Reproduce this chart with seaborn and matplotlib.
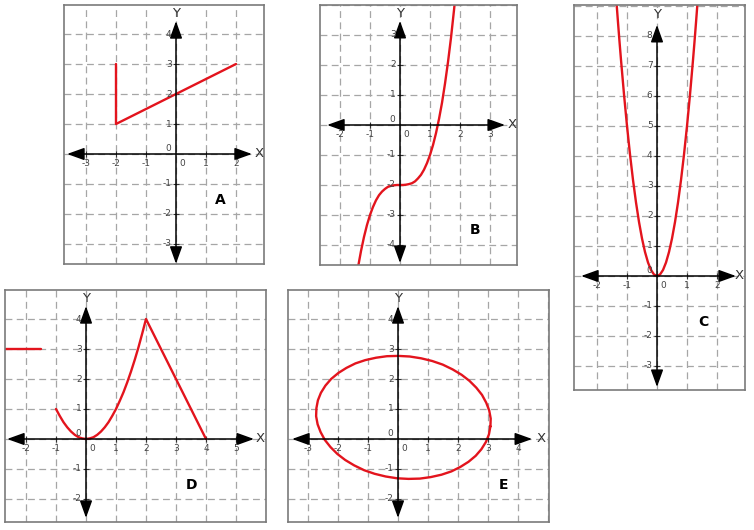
import numpy as np
import seaborn as sns
import matplotlib.pyplot as plt

# ---- data ----
# A: vertical piece then a straight line
a_x = [-2, -2, 2]
a_y = [3, 1, 3]

# B: cubic-looking curve
b_x = [-1.39, -1.3, -1.2, -1.1, -1.0, -0.9, -0.8, -0.7, -0.6, -0.5, -0.4, -0.3, -0.2, -0.1,
       0.0, 0.1, 0.2, 0.3, 0.4, 0.5, 0.6, 0.7, 0.8, 0.9, 1.0, 1.1, 1.2, 1.3, 1.4, 1.5,
       1.6, 1.7, 1.8, 1.82]
b_y = [-4.69, -4.20, -3.73, -3.33, -3.0, -2.73, -2.51, -2.34, -2.22, -2.13, -2.06, -2.03, -2.01, -2.0,
       -2.0, -2.0, -1.99, -1.97, -1.94, -1.88, -1.78, -1.66, -1.49, -1.27, -1.0, -0.67, -0.27, 0.20, 0.74, 1.38,
       2.10, 2.91, 3.83, 4.03]

# C: narrow parabola
c_x = [-1.35, -1.3, -1.25, -1.2, -1.1, -1.0, -0.9, -0.8, -0.7, -0.6, -0.5, -0.4, -0.3, -0.2, -0.1, 0.0,
       0.1, 0.2, 0.3, 0.4, 0.5, 0.6, 0.7, 0.8, 0.9, 1.0, 1.1, 1.2, 1.25, 1.3, 1.35]
c_y = [9.11, 8.45, 7.81, 7.2, 6.05, 5.0, 4.05, 3.2, 2.45, 1.8, 1.25, 0.8, 0.45, 0.2, 0.05, 0.0,
       0.05, 0.2, 0.45, 0.8, 1.25, 1.8, 2.45, 3.2, 4.05, 5.0, 6.05, 7.2, 7.81, 8.45, 9.11]

# D: flat piece on the left, parabola arc, then a straight drop
d_ray_x = [-3, -1.5]
d_ray_y = [3, 3]
d_x = [-1, -0.875, -0.75, -0.625, -0.5, -0.375, -0.25, -0.125, 0, 0.125, 0.25, 0.375, 0.5, 0.625,
       0.75, 0.875, 1, 1.125, 1.25, 1.375, 1.5, 1.625, 1.75, 1.875, 2, 4]
d_y = [1, 0.77, 0.56, 0.39, 0.25, 0.14, 0.06, 0.02, 0, 0.02, 0.06, 0.14, 0.25, 0.39,
       0.56, 0.77, 1, 1.27, 1.56, 1.89, 2.25, 2.64, 3.06, 3.52, 4, 0]

# E: tilted ellipse (closed)
e_x = [3.08, 3.09, 3.04, 2.94, 2.80, 2.61, 2.38, 2.12, 1.82, 1.49, 1.14, 0.77, 0.39, 0.01,
       -0.37, -0.73, -1.09, -1.42, -1.72, -1.99, -2.23, -2.42, -2.57, -2.67, -2.72, -2.73,
       -2.68, -2.58, -2.44, -2.25, -2.02, -1.76, -1.46, -1.13, -0.78, -0.41, -0.03, 0.35,
       0.73, 1.09, 1.45, 1.78, 2.08, 2.35, 2.59, 2.78, 2.93, 3.03, 3.08]
e_y = [0.42, 0.68, 0.95, 1.21, 1.47, 1.71, 1.94, 2.14, 2.32, 2.48, 2.60, 2.69, 2.75, 2.77,
       2.76, 2.71, 2.63, 2.52, 2.37, 2.20, 2.00, 1.78, 1.54, 1.29, 1.03, 0.76,
       0.49, 0.23, -0.03, -0.27, -0.50, -0.70, -0.88, -1.04, -1.16, -1.25, -1.31, -1.33,
       -1.32, -1.27, -1.19, -1.08, -0.93, -0.76, -0.56, -0.34, -0.10, 0.15, 0.42]

letters = ['A', 'B', 'C', 'D', 'E']
x_ticks = [[-3, -2, -1, 0, 1, 2], [-2, -1, 0, 1, 2, 3], [-2, -1, 0, 1, 2],
           [-2, -1, 0, 1, 2, 3, 4, 5], [-3, -2, -1, 0, 1, 2, 3, 4]]
y_ticks = [[-3, -2, -1, 0, 1, 2, 3, 4], [-4, -3, -2, -1, 0, 1, 2, 3], list(range(-3, 9)),
           [-2, -1, 0, 1, 2, 3, 4], [-2, -1, 0, 1, 2, 3, 4]]
curves = [[(a_x, a_y)], [(b_x, b_y)], [(c_x, c_y)], [(d_ray_x, d_ray_y), (d_x, d_y)], [(e_x, e_y)]]

# ---- layout (pixels of the 754x530 picture, and data limits) ----
W, H = 754, 530
boxes = [(64, 5, 264, 264), (320, 5, 517, 265), (574, 5, 745, 390), (5, 290, 266, 522), (288, 290, 549, 522)]
xlims = [(-3.733, 2.933), (-2.667, 3.9), (-2.767, 2.933), (-2.7, 6.0), (-3.667, 5.033)]
ylims = [(-3.667, 4.967), (-4.667, 4.0), (-3.8, 9.033), (-2.767, 4.967), (-2.767, 4.967)]
x_arrows = [(-3.63, 2.53), (-2.43, 3.5), (-2.53, 2.63), (-2.63, 5.6), (-3.53, 4.47)]
y_arrows = [(-3.66, 4.43), (-4.6, 3.47), (-3.7, 8.37), (-2.63, 4.43), (-2.63, 4.43)]
x_name_pos = [2.77, 3.73, 2.73, 5.8, 4.77]
y_name_pos = [4.7, 3.73, 8.73, 4.67, 4.67]
letter_pos = [(1.47, -1.53), (2.5, -3.5), (1.53, -1.53), (3.53, -1.53), (3.5, -1.53)]

RED = '#e3141d'

sns.set_style('white')
plt.rcParams['font.family'] = ['DejaVu Sans']

fig = plt.figure(figsize=(W / 100, H / 100), dpi=100)

for i in range(5):
    l, t, r, b = boxes[i]
    ax = fig.add_axes([l / W, 1 - b / H, (r - l) / W, (b - t) / H])
    ax.set_xlim(*xlims[i])
    ax.set_ylim(*ylims[i])

    # dashed grid on every integer
    ax.set_xticks(np.arange(np.ceil(xlims[i][0]), np.floor(xlims[i][1]) + 1))
    ax.set_yticks(np.arange(np.ceil(ylims[i][0]), np.floor(ylims[i][1]) + 1))
    ax.grid(True, color='#a6a6a6', linestyle=(0, (5.5, 3.5)), linewidth=0.9)
    ax.set_axisbelow(True)
    ax.tick_params(length=0, labelbottom=False, labelleft=False)
    for s in ax.spines.values():
        s.set_color('#7a7a7a')
        s.set_linewidth(1.2)

    # axes with arrow heads at both ends
    for p0, p1 in [((x_arrows[i][0], 0), (x_arrows[i][1], 0)), ((0, y_arrows[i][0]), (0, y_arrows[i][1]))]:
        ax.annotate('', xy=p1, xytext=p0,
                    arrowprops=dict(arrowstyle='<|-|>,head_length=0.75,head_width=0.27',
                                    color='black', lw=1.1, shrinkA=0, shrinkB=0, mutation_scale=14))

    # small ticks + labels
    xt = [v for v in x_ticks[i] if v != 0]
    yt = [v for v in y_ticks[i] if v != 0]
    ax.plot(xt, [0] * len(xt), '|', color='#333333', markersize=4, mew=0.8)
    ax.plot([0] * len(yt), yt, '_', color='#333333', markersize=4, mew=0.8)
    for v in x_ticks[i]:
        dx = 4.5 if v == 0 else 0
        ax.annotate(str(v), (v, 0), xytext=(dx, -6.5), textcoords='offset points',
                    ha='center', va='center', fontsize=6.5, color='#444444')
    for v in y_ticks[i]:
        dy = 4.3 if v == 0 else 0
        ax.annotate(str(v), (0, v), xytext=(-3.2, dy), textcoords='offset points',
                    ha='right', va='center', fontsize=6.5, color='#444444')

    ax.text(x_name_pos[i], 0, 'X', ha='center', va='center', fontsize=9.5, color='#333333')
    ax.text(0, y_name_pos[i], 'Y', ha='center', va='center', fontsize=9.5, color='#333333')
    ax.text(letter_pos[i][0], letter_pos[i][1], letters[i], ha='center', va='center',
            fontsize=10, fontweight='bold', color='black')

    for cx, cy in curves[i]:
        sns.lineplot(x=cx, y=cy, estimator=None, sort=False, color=RED, linewidth=1.7, ax=ax)
    ax.set_xlabel('')
    ax.set_ylabel('')

fig.savefig('out.png', dpi=100)
